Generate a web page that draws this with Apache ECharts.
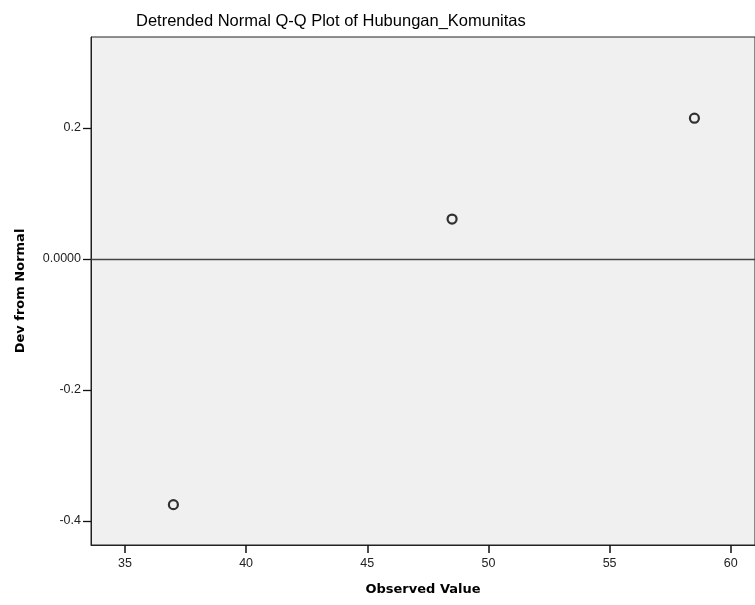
<!DOCTYPE html>
<html>
<head>
<meta charset="utf-8">
<script src="https://cdn.jsdelivr.net/npm/echarts@6/dist/echarts.min.js"></script>
<style>
  html, body { margin: 0; padding: 0; background: #fff; }
  #main { width: 755px; height: 605px; }
</style>
</head>
<body>
<div id="main"></div>
<script>
// observed values and their deviation from normal
var observed = [37, 48.5, 58.5];
var devFromNormal = [-0.375, 0.061, 0.215];
var xTicks = [35, 40, 45, 50, 55, 60];
var yTicks = [0.2, 0, -0.2, -0.4];

var points = observed.map(function (v, i) { return [v, devFromNormal[i]]; });

var chart = echarts.init(document.getElementById('main'));
chart.setOption({
  animation: false,
  backgroundColor: '#fff',
  textStyle: { fontFamily: 'Liberation Sans, Arial, sans-serif' },
  title: {
    text: 'Detrended Normal Q-Q Plot of Hubungan_Komunitas',
    left: 131,
    top: 8,
    textStyle: { fontSize: 16.5, fontWeight: 'normal', color: '#000', fontFamily: 'Liberation Sans, Arial, sans-serif' }
  },
  grid: { left: 91, right: -2, top: 37, bottom: 60, show: true, backgroundColor: '#f0f0f0', borderColor: '#222', borderWidth: 1 },
  xAxis: {
    type: 'value',
    min: 33.6,
    max: 61,
    name: 'Observed Value',
    nameLocation: 'middle',
    nameGap: 38,
    nameTextStyle: { fontSize: 13, fontWeight: 'bold', color: '#000', fontFamily: 'DejaVu Sans' },
    axisLine: { onZero: false, lineStyle: { color: '#222', width: 1 } },
    axisTick: { show: true, length: 8, lineStyle: { color: '#111', width: 1.5 }, customValues: xTicks },
    axisLabel: { color: '#222', fontSize: 12.5, margin: 12, customValues: xTicks },
    // split lines kept but invisible, otherwise the custom ticks vanish
    splitLine: { show: true, lineStyle: { color: 'rgba(0,0,0,0)' } }
  },
  yAxis: {
    type: 'value',
    min: -0.4366,
    max: 0.339,
    name: 'Dev from Normal',
    nameLocation: 'middle',
    nameGap: 64,
    nameTextStyle: { fontSize: 13, fontWeight: 'bold', color: '#000', fontFamily: 'DejaVu Sans' },
    axisLine: { onZero: false, lineStyle: { color: '#222', width: 1 } },
    axisTick: { show: true, length: 8, lineStyle: { color: '#111', width: 1.3 }, customValues: yTicks },
    axisLabel: {
      color: '#222', fontSize: 12.5, margin: 10,
      customValues: yTicks,
      formatter: function (v) { return Math.abs(v) < 1e-9 ? '0.0000' : v.toFixed(1); }
    },
    splitLine: { show: false }
  },
  series: [{
    type: 'scatter',
    data: points,
    symbol: 'circle',
    symbolSize: 9,
    itemStyle: { color: 'rgba(0,0,0,0)', borderColor: '#000', borderWidth: 2.2 },
    markLine: {
      silent: true,
      symbol: 'none',
      label: { show: false },
      lineStyle: { color: '#444', width: 1.3, type: 'solid' },
      data: [{ yAxis: 0 }]
    }
  }]
});
</script>
</body>
</html>
